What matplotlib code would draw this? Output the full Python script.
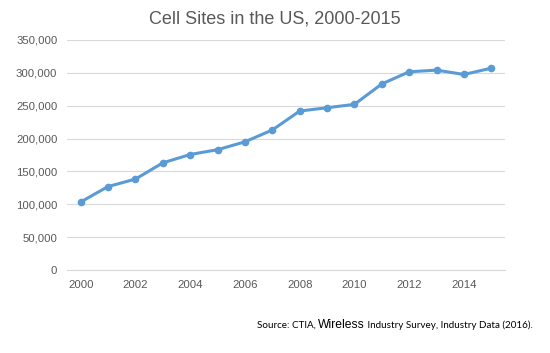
import matplotlib
matplotlib.use("Agg")
import matplotlib.pyplot as plt
from matplotlib.ticker import FuncFormatter

years = list(range(2000, 2016))
sites = [103500, 127000, 138300, 163000, 175700, 183000, 195000, 213000,
         241800, 246800, 252000, 283000, 301500, 304000, 297400, 307000]

gray = "#595959"
blue = "#5B9BD5"

plt.rcParams['font.family'] = ['Liberation Sans', 'DejaVu Sans']

fig = plt.figure(figsize=(5.5, 3.53), dpi=100)
ax = fig.add_axes([67 / 550, 0.235, 438 / 550, 0.652])

ax.plot(years, sites, color=blue, lw=2.2, marker='o', ms=4.5, zorder=3)

ax.set_xlim(1999.5, 2015.5)
ax.set_ylim(0, 350000)
ax.set_xticks(years[::2])
ax.set_yticks(range(0, 350001, 50000))
ax.yaxis.set_major_formatter(FuncFormatter(lambda v, p: f"{int(v):,}"))
ax.grid(axis='y', color='#D9D9D9', lw=0.8)
ax.set_axisbelow(True)
for s in ['top', 'right', 'left']:
    ax.spines[s].set_visible(False)
ax.spines['bottom'].set_color('#D9D9D9')
ax.tick_params(length=0, colors=gray, labelsize=8.2, pad=7)

fig.text(0.5, 0.945, "Cell Sites in the US, 2000-2015", ha='center', va='center',
         fontsize=13, color=gray)

# source line: mixed fonts
fig.canvas.draw()
r = fig.canvas.get_renderer()
x = 257 / 550
y = 1 - 328 / 353
parts = [("Source: CTIA, ", 'Lato', 7.1), ("Wireless", 'Liberation Sans', 8.7),
         (" Industry Survey, Industry Data (2016).", 'Lato', 7.1)]
for txt, fam, fs in parts:
    t = fig.text(x, y, txt, fontsize=fs, family=[fam, 'DejaVu Sans'],
                 color='black', va='baseline', ha='left')
    bb = t.get_window_extent(renderer=r)
    x += bb.width / fig.bbox.width

fig.savefig("out.png", dpi=100)
